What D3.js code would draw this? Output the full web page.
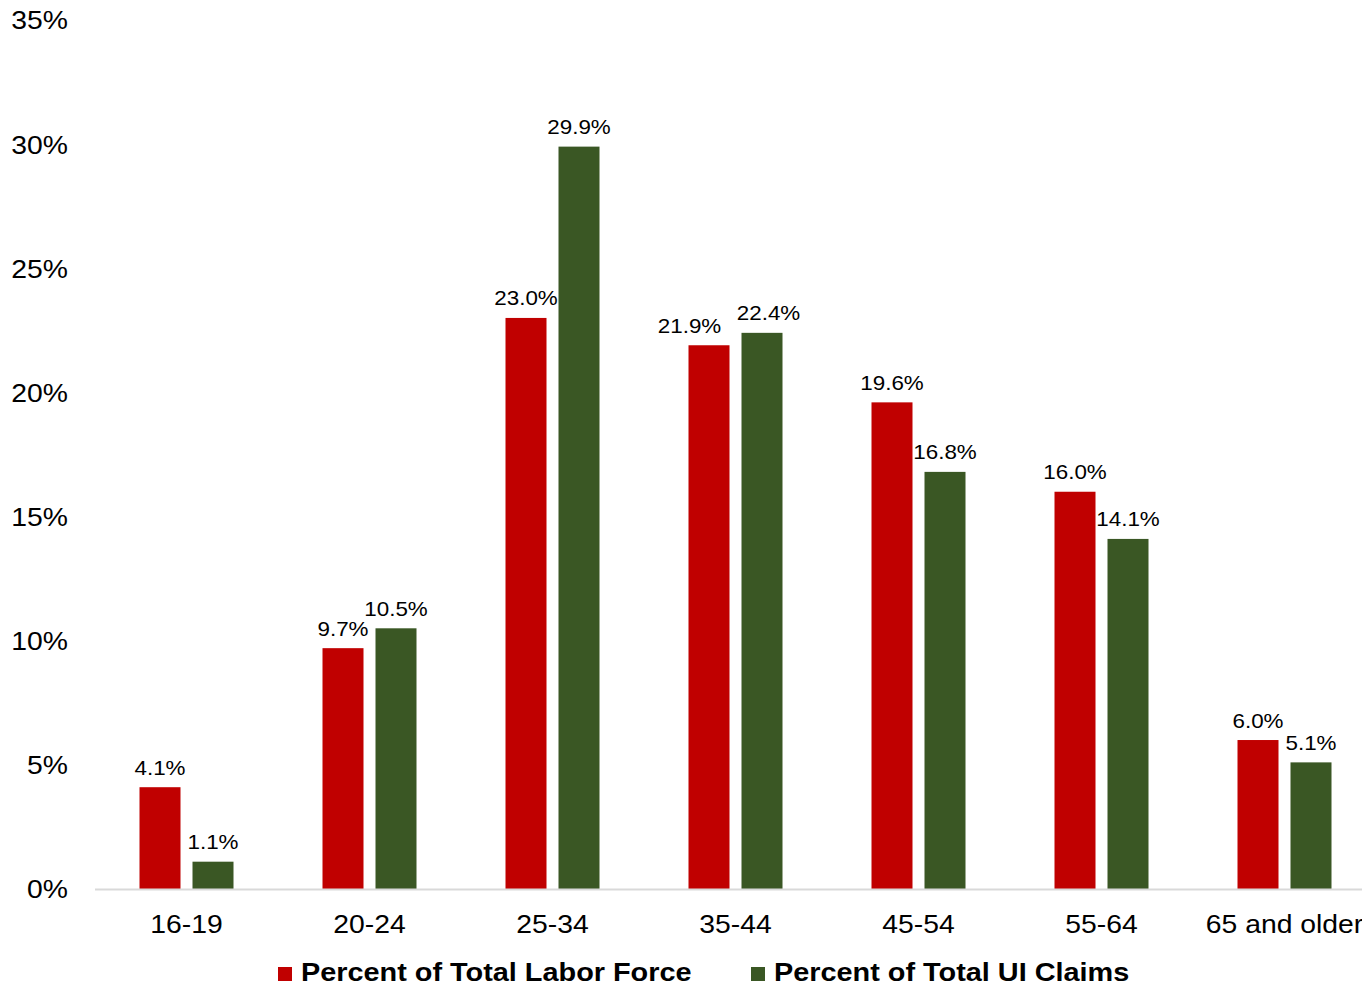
<!DOCTYPE html>
<html>
<head>
<meta charset="utf-8">
<script src="https://cdn.jsdelivr.net/npm/d3@7"></script>
<style>
  body { margin: 0; background: #fff; }
  text { font-family: "Liberation Sans", Arial, sans-serif; fill: #000; }
</style>
</head>
<body>
<div id="container"></div>
<script>
const categories = ["16-19", "20-24", "25-34", "35-44", "45-54", "55-64", "65 and older"];
const laborForce = [4.1, 9.7, 23.0, 21.9, 19.6, 16.0, 6.0];
const uiClaims = [1.1, 10.5, 29.9, 22.4, 16.8, 14.1, 5.1];
const yTicks = [0, 5, 10, 15, 20, 25, 30, 35];
const seriesNames = ["Percent of Total Labor Force", "Percent of Total UI Claims"];
const seriesColors = ["#c00000", "#3a5724"];

const width = 1362, height = 987;

// the reference glyphs are a bit wider than Liberation Sans, so stretch text horizontally
const place = (px, py, sx) => `translate(${px},${py}) scale(${sx},1)`;

const svg = d3.select("#container")
  .append("svg")
  .attr("width", width)
  .attr("height", height);

const x = d3.scaleBand()
  .domain(categories)
  .range([95, 1376])
  .padding(0);

const sub = d3.scaleBand()
  .domain([0, 1])
  .range([-47, 47])
  .paddingInner(12 / 53);

const y = d3.scaleLinear()
  .domain([0, 35])
  .range([889, 20]);

// y tick labels (no axis line, no gridlines)
svg.append("g")
  .selectAll("text")
  .data(yTicks)
  .join("text")
  .attr("transform", d => place(68, y(d), 1.09))
  .attr("dy", "0.36em")
  .attr("text-anchor", "end")
  .style("font-size", "26px")
  .text(d => d + "%");

// bars
const rows = categories.map((c, i) => [laborForce[i], uiClaims[i]]);
const groups = svg.append("g")
  .selectAll("g")
  .data(rows)
  .join("g")
  .attr("transform", (d, i) => `translate(${x(categories[i]) + x.bandwidth() / 2},0)`);

groups.selectAll("rect")
  .data(d => d.map((v, k) => ({ v, k })))
  .join("rect")
  .attr("x", d => sub(d.k))
  .attr("width", sub.bandwidth())
  .attr("y", d => y(d.v))
  .attr("height", d => y(0) - y(d.v))
  .attr("fill", d => seriesColors[d.k]);

// data labels, pushed apart sideways when the two in a group would collide
const labelW = 63, labelH = 16, labelGap = 16;
groups.each(function(d) {
  const cx = [0, 1].map(k => sub(k) + sub.bandwidth() / 2);
  const ly = d.map(v => y(v) - 12.5);
  if (Math.abs(ly[0] - ly[1]) < labelH) {
    const overlap = (cx[0] + labelW / 2 + labelGap) - (cx[1] - labelW / 2);
    if (overlap > 0) {
      cx[0] -= overlap * 0.75;
      cx[1] += overlap * 0.25;
    }
  }
  d3.select(this).selectAll("text")
    .data(d.map((v, k) => ({ v, k })))
    .join("text")
    .attr("transform", e => place(cx[e.k], ly[e.k], 1.12))
    .attr("text-anchor", "middle")
    .style("font-size", "20px")
    .text(e => e.v.toFixed(1) + "%");
});

// baseline
svg.append("line")
  .attr("x1", 95)
  .attr("x2", width)
  .attr("y1", y(0) + 0.5)
  .attr("y2", y(0) + 0.5)
  .attr("stroke", "#d9d9d9")
  .attr("stroke-width", 2);

// x labels
svg.append("g")
  .selectAll("text")
  .data(categories)
  .join("text")
  .attr("transform", d => place(x(d) + x.bandwidth() / 2, 933, 1.09))
  .attr("text-anchor", "middle")
  .style("font-size", "26px")
  .text(d => d);

// legend
const legendX = [278, 751];
const legend = svg.append("g")
  .selectAll("g")
  .data(seriesNames)
  .join("g")
  .attr("transform", (d, i) => `translate(${legendX[i]},967)`);

legend.append("rect")
  .attr("width", 14)
  .attr("height", 14)
  .attr("fill", (d, i) => seriesColors[i]);

legend.append("text")
  .attr("transform", place(23, 14, 1.11))
  .style("font-size", "26px")
  .style("font-weight", "bold")
  .text(d => d);
</script>
</body>
</html>
